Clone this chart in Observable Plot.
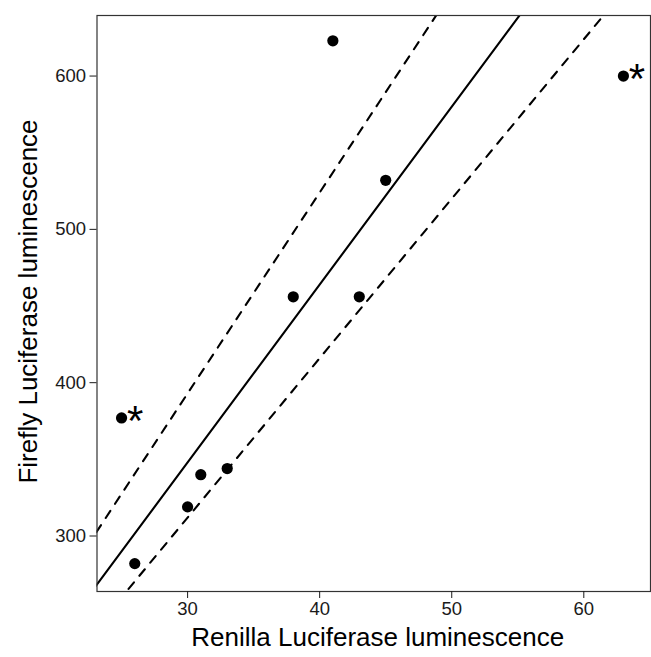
<!DOCTYPE html>
<html>
<head>
<meta charset="utf-8">
<script src="https://cdn.jsdelivr.net/npm/d3@7"></script>
<script src="https://cdn.jsdelivr.net/npm/@observablehq/plot@0.6"></script>
<style>
  html, body { margin: 0; padding: 0; background: #fff; }
</style>
</head>
<body>
<div id="chart"></div>
<script>
const renilla = [25, 26, 30, 31, 33, 38, 41, 43, 45, 63];
const firefly = [377, 282, 319, 340, 344, 456, 623, 456, 532, 600];
const flagged = [25, 63];            // renilla values marked with an asterisk
const lineSlopes = [11.6, 13.1, 10.4]; // fit and upper/lower bands (through origin)
const lineKinds = ["fit", "upper", "lower"];
const xTicks = [30, 40, 50, 60];
const yTicks = [300, 400, 500, 600];
const xLabel = "Renilla Luciferase luminescence";
const yLabel = "Firefly Luciferase luminescence";

const xDomain = [23.14, 65.05];
const yDomain = [263.8, 639.5];

const points = renilla.map((r, i) => ({x: r, y: firefly[i]}));
const stars = points.filter(p => flagged.includes(p.x));
const lines = [];
lineSlopes.forEach((k, i) => {
  [xDomain[0] - 5, xDomain[1] + 5].forEach(x => lines.push({kind: lineKinds[i], x, y: k * x}));
});

const font = "'Liberation Sans', Arial, Helvetica, sans-serif";

const chart = Plot.plot({
  width: 651,
  height: 657,
  marginLeft: 96.5,
  marginRight: 1,
  marginTop: 15,
  marginBottom: 66,
  style: {fontFamily: font, background: "#fff", color: "#000"},
  x: {domain: xDomain},
  y: {domain: yDomain},
  marks: [
    Plot.line(lines.filter(d => d.kind === "fit"), {x: "x", y: "y", stroke: "#000", strokeWidth: 2.1, clip: true}),
    Plot.line(lines.filter(d => d.kind === "upper"), {x: "x", y: "y", stroke: "#000", strokeWidth: 2.1, strokeDasharray: "8.5,8.5", clip: true}),
    Plot.line(lines.filter(d => d.kind === "lower"), {x: "x", y: "y", stroke: "#000", strokeWidth: 2.1, strokeDasharray: "8.5,8.5", clip: true}),
    Plot.dot(points, {x: "x", y: "y", r: 5.6, fill: "#000", stroke: "none"}),
    Plot.text(stars, {x: "x", y: "y", text: () => "*", dx: 13.5, dy: 3.5, fontSize: 42, fill: "#000"}),
    Plot.frame({stroke: "#333", strokeWidth: 1.2}),
    Plot.axisX({ticks: xTicks, tickFormat: d => d, tickSize: 7, tickPadding: 3, fontSize: 18.5, color: "#1a1a1a", label: null}),
    Plot.axisY({ticks: yTicks, tickFormat: d => d, tickSize: 7, tickPadding: 4, fontSize: 18.5, color: "#1a1a1a", label: null}),
    Plot.text([xLabel], {frameAnchor: "bottom", textAnchor: "middle", dx: 4, dy: 54.5, fontSize: 26, fill: "#000"}),
    Plot.text([yLabel], {frameAnchor: "left", textAnchor: "middle", dx: -68, dy: -2, rotate: -90, fontSize: 26, fill: "#000"})
  ]
});
document.getElementById("chart").appendChild(chart);
</script>
</body>
</html>
